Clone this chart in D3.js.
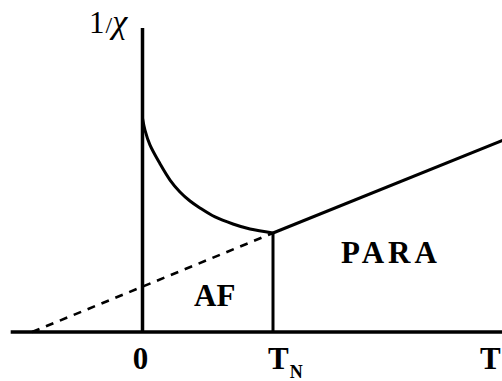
<!DOCTYPE html>
<html>
<head>
<meta charset="utf-8">
<script src="https://cdn.jsdelivr.net/npm/d3@7/dist/d3.min.js"></script>
<style>
  html, body { margin: 0; padding: 0; background: #fff; }
  svg { display: block; }
  text { font-family: "Liberation Serif", "Times New Roman", serif; fill: #000; }
</style>
</head>
<body>
<svg id="chart" width="502" height="381"></svg>
<script>
// Temperature in units of the Néel temperature, 1/χ in units of its value at T_N.
const axisT = [-1.01, 2.77];          // extent of the temperature axis
const axisInvChiTop = 3.07;           // top of the 1/χ axis

// Ordered (antiferromagnetic) region below T_N
const afT      = [0, 0.019, 0.057, 0.134, 0.211, 0.287, 0.364, 0.44, 0.556, 0.693, 0.824, 1.0];
const afInvChi = [2.16, 2.04, 1.89, 1.70, 1.535, 1.414, 1.323, 1.253, 1.162, 1.091, 1.04, 1.0];

// Curie–Weiss paramagnetic line above T_N
const paraT      = [1.0, 2.77];
const paraInvChi = [1.0, 1.94];

// Extrapolation of the Curie–Weiss law down to T = -θ
const extrapT      = [-0.846, 1.0];
const extrapInvChi = [0, 1.0];

// Axis labels
const tickValues = [0, 1];
const tickLabels = [["0", ""], ["T", "N"]];

const svg = d3.select("#chart");
const x = d3.scaleLinear().domain([0, 1]).range([142.5, 273]);
const y = d3.scaleLinear().domain([0, 1]).range([332, 233]);

const zip = (a, b) => a.map((v, i) => [v, b[i]]);
const straight = d3.line().x(d => x(d[0])).y(d => y(d[1]));
const smooth = d3.line().x(d => x(d[0])).y(d => y(d[1])).curve(d3.curveCatmullRom.alpha(0.5));

// axes
svg.append("line")
  .attr("x1", x(axisT[0])).attr("x2", x(axisT[1]))
  .attr("y1", y(0)).attr("y2", y(0))
  .attr("stroke", "#000").attr("stroke-width", 3.5);
svg.append("line")
  .attr("x1", x(0)).attr("x2", x(0))
  .attr("y1", y(0)).attr("y2", y(axisInvChiTop))
  .attr("stroke", "#000").attr("stroke-width", 3.5);

// dashed extrapolation
svg.append("path")
  .attr("d", straight(zip(extrapT, extrapInvChi)))
  .attr("fill", "none").attr("stroke", "#000")
  .attr("stroke-width", 2.6).attr("stroke-dasharray", "8,7");

// AF susceptibility branch
svg.append("path")
  .attr("d", smooth(zip(afT, afInvChi)))
  .attr("fill", "none").attr("stroke", "#000").attr("stroke-width", 3);

// paramagnetic line
svg.append("path")
  .attr("d", straight(zip(paraT, paraInvChi)))
  .attr("fill", "none").attr("stroke", "#000").attr("stroke-width", 3);

// phase boundary at T_N
svg.append("line")
  .attr("x1", x(1)).attr("x2", x(1))
  .attr("y1", y(0)).attr("y2", y(1))
  .attr("stroke", "#000").attr("stroke-width", 3);

// tick labels
tickValues.forEach((v, i) => {
  const [main, sub] = tickLabels[i];
  const t = svg.append("text")
    .attr("y", 369)
    .attr("font-size", 31).attr("font-weight", "bold");
  if (sub) {
    t.attr("x", x(v) - 5).attr("text-anchor", "start");
    t.append("tspan").text(main);
    t.append("tspan").attr("font-size", 18).attr("dy", 9).attr("dx", 1).text(sub);
  } else {
    t.attr("x", x(v) - 2).attr("text-anchor", "middle").text(main);
  }
});

// axis titles
svg.append("text").attr("x", 480).attr("y", 369)
  .attr("font-size", 31).attr("font-weight", "bold").text("T");

const yTitle = svg.append("text").attr("x", 89).attr("y", 33).attr("font-size", 31);
yTitle.append("tspan").text("1");
yTitle.append("tspan").attr("font-size", 24).attr("dx", 1).text("/");
yTitle.append("tspan").attr("font-size", 34).attr("font-style", "italic")
  .attr("font-family", "'Liberation Serif', 'DejaVu Serif', serif").text("χ");

// region labels
svg.append("text").attr("x", 194).attr("y", 306)
  .attr("font-size", 31).attr("font-weight", "bold").text("AF");
svg.append("text").attr("x", 341).attr("y", 263)
  .attr("font-size", 31).attr("font-weight", "bold")
  .attr("letter-spacing", 4).text("PARA");
</script>
</body>
</html>
